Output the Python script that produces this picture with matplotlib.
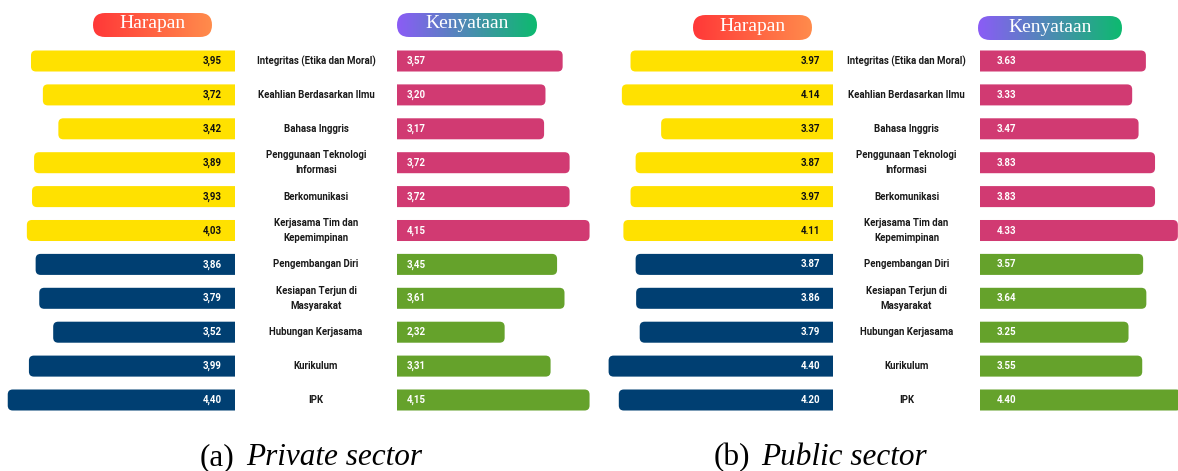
import numpy as np
import matplotlib.pyplot as plt
from matplotlib.patches import FancyBboxPatch, PathPatch
from matplotlib.path import Path
from matplotlib.colors import LinearSegmentedColormap

# data
categories = ['Integritas (Etika dan Moral)', 'Keahlian Berdasarkan Ilmu', 'Bahasa Inggris',
              'Penggunaan Teknologi\nInformasi', 'Berkomunikasi', 'Kerjasama Tim dan\nKepemimpinan',
              'Pengembangan Diri', 'Kesiapan Terjun di\nMasyarakat', 'Hubungan Kerjasama',
              'Kurikulum', 'IPK']
priv_harapan = [3.95, 3.72, 3.42, 3.89, 3.93, 4.03, 3.86, 3.79, 3.52, 3.99, 4.40]
priv_kenyataan = [3.57, 3.20, 3.17, 3.72, 3.72, 4.15, 3.45, 3.61, 2.32, 3.31, 4.15]
pub_harapan = [3.97, 4.14, 3.37, 3.87, 3.97, 4.11, 3.87, 3.86, 3.79, 4.40, 4.20]
pub_kenyataan = [3.63, 3.33, 3.47, 3.83, 3.83, 4.33, 3.57, 3.64, 3.25, 3.55, 4.40]
n_top = 6  # first six rows are the yellow / pink group

YELLOW, NAVY = '#FFE100', '#003F72'
PINK, GREEN = '#D13A72', '#65A22B'

W, H = 1178, 471
ROW0, ROW_PX = 61, 33.9
ys = np.arange(len(categories))

fig = plt.figure(figsize=(W / 100, H / 100), dpi=100)


def px_axes(x0, y0, x1, y1):
    return fig.add_axes([x0 / W, 1 - y1 / H, (x1 - x0) / W, (y1 - y0) / H])


def bar_axes(x0, x1, px_per_unit, left):
    ax = px_axes(x0, 0, x1, H)
    span = (x1 - x0) / px_per_unit
    ax.set_xlim((span, 0) if left else (0, span))
    ax.set_ylim((H - ROW0) / ROW_PX, -ROW0 / ROW_PX)
    ax.axis('off')
    return ax


def draw_bars(ax, values, colors, r=5):
    # bars come from barh; redrawn as one path with only the outer end rounded
    bars = ax.barh(ys, values, height=0.62, color=colors, linewidth=0)
    for b in bars:
        (x0, y0), (x1, y1) = ax.transData.transform(
            [(b.get_x(), b.get_y()), (b.get_x() + b.get_width(), b.get_y() + b.get_height())])
        by, ty = min(y0, y1), max(y0, y1)
        s = 1 if x1 > x0 else -1  # direction from inner to outer end
        verts = [(x0, by), (x1 - s * r, by), (x1, by), (x1, by + r), (x1, ty - r),
                 (x1, ty), (x1 - s * r, ty), (x0, ty), (x0, by)]
        codes = [Path.MOVETO, Path.LINETO, Path.CURVE3, Path.CURVE3, Path.LINETO,
                 Path.CURVE3, Path.CURVE3, Path.LINETO, Path.CLOSEPOLY]
        ax.add_patch(PathPatch(Path(verts, codes), transform=None, fc=b.get_facecolor(), lw=0))
        b.set_visible(False)


def value_labels(ax, values, colors, sep, offset, ha):
    for y, v, c in zip(ys, values, colors):
        txt = f'{v:.2f}'.replace('.', sep)
        tc = '#111111' if c == YELLOW else 'white'
        ax.annotate(txt, xy=(0, y), xytext=(offset, 0), textcoords='offset pixels',
                    ha=ha, va='center', fontsize=7, fontweight='bold', family='Roboto',
                    color=tc, annotation_clip=False, zorder=5)


def pill(x0, y0, x1, y1, c0, c1, text):
    ax = px_axes(x0, y0, x1, y1)
    w, h = x1 - x0, y1 - y0
    ax.set_xlim(0, w)
    ax.set_ylim(0, h)
    ax.axis('off')
    cmap = LinearSegmentedColormap.from_list('g', [c0, c1])
    im = ax.imshow(np.linspace(0, 1, 256).reshape(1, -1), extent=(0, w, 0, h), aspect='auto', cmap=cmap)
    p = FancyBboxPatch((0, 0), w, h, boxstyle=f'round,pad=0,rounding_size={h / 2}', fc='none', lw=0,
                       transform=ax.transData)
    ax.add_patch(p)
    im.set_clip_path(p)
    ax.text(w / 2, h / 2 + 1, text, ha='center', va='center', color='white', fontsize=14,
            family='Liberation Serif')


def panel(harapan, kenyataan, sep, lx1, lscale, rx0, rscale, roff, hpill, kpill):
    lcols = [YELLOW] * n_top + [NAVY] * (len(categories) - n_top)
    rcols = [PINK] * n_top + [GREEN] * (len(categories) - n_top)

    axl = bar_axes(lx1 - 233, lx1, lscale, True)
    draw_bars(axl, harapan, lcols)
    value_labels(axl, harapan, lcols, sep, -13, 'right')

    axr = bar_axes(rx0, rx0 + 210, rscale, False)
    draw_bars(axr, kenyataan, rcols)
    value_labels(axr, kenyataan, rcols, sep, roff, 'left')

    mid = (rx0 - lx1) / 2
    for y, cat in zip(ys, categories):
        axl.annotate(cat, xy=(0, y), xytext=(mid, 0), textcoords='offset pixels',
                     ha='center', va='center', fontsize=6.9, fontweight='bold', family='Roboto',
                     color='#1a1a1a', linespacing=1.6, annotation_clip=False)

    pill(*hpill, '#FF3838', '#FF8C4C', 'Harapan')
    pill(*kpill, '#8B5CF6', '#0DBA6F', 'Kenyataan')


panel(priv_harapan, priv_kenyataan, ',', 235, 51.65, 397, 46.4, 10,
      (93, 13, 212, 37), (397, 13, 537, 37))
panel(pub_harapan, pub_kenyataan, '.', 833, 51.0, 980, 45.7, 17,
      (693, 15, 812, 40), (978, 16, 1122, 40))

# captions
cap = dict(fontsize=22.5, family='Liberation Serif', va='baseline')
fig.text(200 / W, 1 - 465 / H, '(a)', **cap)
fig.text(246 / W, 1 - 465 / H, 'Private sector', style='italic', **cap)
fig.text(714 / W, 1 - 465 / H, '(b)', **cap)
fig.text(761 / W, 1 - 465 / H, 'Public sector', style='italic', **cap)

fig.savefig('out.png', dpi=100)
